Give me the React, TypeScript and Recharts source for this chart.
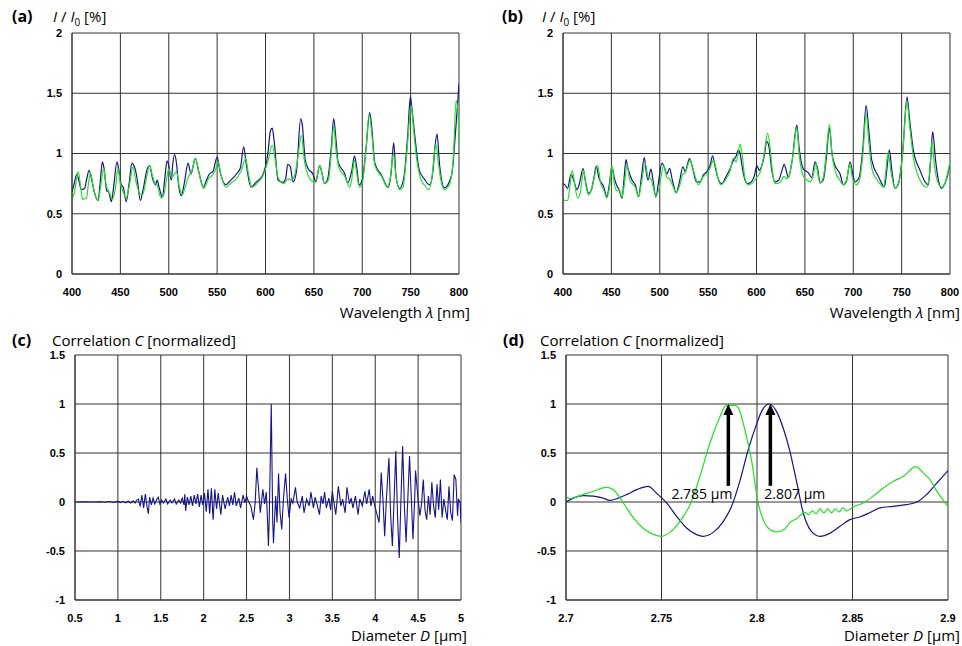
import React from "react";
import { LineChart, Line, XAxis, YAxis, CartesianGrid, ReferenceLine, ReferenceDot } from "recharts";

const BLUE = "#14148c";
const GREEN = "#22e022";
const GRID = "#333";

const wavelengthTicks = [400, 450, 500, 550, 600, 650, 700, 750, 800];
const intensityTicks = [0, 0.5, 1, 1.5, 2];
const diameterTicks = [0.5, 1, 1.5, 2, 2.5, 3, 3.5, 4, 4.5, 5];
const zoomTicks = [2.7, 2.75, 2.8, 2.85, 2.9];
const corrTicks = [-1, -0.5, 0, 0.5, 1, 1.5];

// (a) measured (blue) vs. fitted (green) spectrum, [nm, I/I0]
const aBlue: [number, number][] = [
  [400, 0.68], [402, 0.74], [405, 0.83], [407, 0.78], [409.6, 0.7], [413, 0.71], [415, 0.78], [417.6, 0.86], [420, 0.8], [423, 0.68],
  [427, 0.61], [429, 0.75], [431.4, 0.93], [433, 0.88], [436, 0.69], [438, 0.68], [440.7, 0.6], [443, 0.72], [446.5, 0.93], [448, 0.88],
  [451, 0.74], [453, 0.72], [456, 0.6], [459, 0.75], [462, 0.92], [464, 0.9], [466.5, 0.83], [468, 0.75], [470.6, 0.61], [474, 0.72],
  [477, 0.85], [480.3, 0.9], [483, 0.8], [486.5, 0.74], [488, 0.78], [490, 0.72], [493.4, 0.64], [496, 0.8], [498.2, 0.94], [500, 0.9],
  [502.7, 0.78], [504, 0.9], [506, 0.99], [508, 0.92], [510, 0.75], [513, 0.65], [516, 0.75], [520, 0.92], [523, 0.83], [527.5, 0.96],
  [531, 0.85], [536, 0.72], [539, 0.78], [542, 0.83], [545.7, 0.85], [550, 0.97], [553, 0.85], [559, 0.74], [563, 0.77], [570, 0.83],
  [574, 0.88], [577.5, 1.055], [580, 0.92], [585, 0.72], [590, 0.76], [597, 0.82], [602.6, 1.01], [605, 1.185], [607, 1.21], [609, 1.1],
  [613, 0.78], [618, 0.76], [621, 0.8], [623, 0.91], [625.7, 0.89], [628.4, 0.765], [632, 0.85], [636.4, 1.29], [638, 1.24], [641, 0.95],
  [644, 0.875], [649, 0.83], [652, 0.765], [656, 0.9], [658, 0.85], [661, 0.75], [664, 0.78], [668, 1.05], [670.5, 1.29], [673, 1.1],
  [675, 0.93], [682, 0.83], [685, 0.757], [689, 0.85], [692, 0.98], [694, 0.9], [697, 0.74], [700, 0.78], [704, 1.05], [707.7, 1.34],
  [710, 1.2], [713, 0.92], [720, 0.82], [726.6, 0.72], [730, 0.85], [732.5, 1.09], [735, 0.8], [738.7, 0.71], [743, 0.8], [747, 1.15],
  [749.7, 1.47], [751, 1.4], [754, 1.17], [759, 0.86], [764, 0.79], [769.7, 0.74], [773, 0.85], [775.5, 1.08], [777.3, 1.16], [780, 0.9],
  [785, 0.715], [790, 0.765], [793, 0.85], [795.5, 1.08], [798, 1.35], [800, 1.58],
];
const aGreen: [number, number][] = [
  [400, 0.63], [402, 0.66], [406.5, 0.85], [409, 0.72], [411, 0.62], [415, 0.63], [417, 0.75], [419, 0.84], [422, 0.72], [427, 0.61],
  [430, 0.75], [432.7, 0.875], [435, 0.75], [439, 0.67], [442, 0.62], [445, 0.72], [447.5, 0.875], [450, 0.75], [453, 0.68], [456, 0.63],
  [459, 0.72], [463, 0.89], [466, 0.77], [470, 0.67], [473, 0.66], [477, 0.8], [480, 0.9], [483, 0.82], [486, 0.75], [488, 0.74],
  [492, 0.63], [495, 0.66], [498, 0.8], [500, 0.875], [503, 0.8], [506, 0.83], [508, 0.85], [511, 0.72], [514, 0.66], [517, 0.72],
  [520, 0.8], [524, 0.86], [527.5, 0.96], [531, 0.85], [536, 0.71], [541, 0.79], [545, 0.82], [548, 0.86], [551, 0.93], [554, 0.82],
  [559, 0.72], [565, 0.76], [570, 0.79], [575, 0.86], [579.5, 0.96], [582, 0.85], [586, 0.72], [592, 0.76], [597, 0.81], [602, 0.92],
  [607, 1.07], [610, 0.95], [613, 0.8], [619, 0.75], [623, 0.79], [627, 0.78], [631, 0.85], [634, 1.0], [637, 1.15], [640, 0.95],
  [644, 0.82], [650, 0.765], [653, 0.8], [656, 0.9], [658, 0.85], [661, 0.75], [665, 0.78], [668, 1.0], [670.5, 1.23], [673, 1.02],
  [676, 0.88], [682, 0.81], [687, 0.72], [689, 0.78], [692, 0.945], [694, 0.85], [697, 0.72], [700, 0.75], [704, 1.05], [707, 1.32],
  [710, 1.15], [713, 0.9], [720, 0.81], [726, 0.72], [729, 0.8], [732, 0.995], [735, 0.8], [738.7, 0.7], [742, 0.72], [746, 1.0],
  [750.7, 1.4], [753, 1.2], [756, 0.97], [760, 0.8], [764, 0.74], [769, 0.7], [772, 0.8], [776, 1.08], [779, 0.9], [782, 0.75],
  [785, 0.7], [790, 0.74], [794, 0.95], [797, 1.44], [799, 1.35], [800, 1.08],
];

// (b) second particle
const bBlue: [number, number][] = [
  [400, 0.75], [402, 0.74], [404.8, 0.71], [408.3, 0.83], [411, 0.78], [414.5, 0.7], [417, 0.75], [420.7, 0.875], [423, 0.78], [426.5, 0.67],
  [429, 0.69], [432, 0.8], [434.4, 0.895], [437, 0.8], [442, 0.725], [445.4, 0.64], [448, 0.75], [450.6, 0.89], [453, 0.8], [455.8, 0.73],
  [458, 0.7], [461, 0.63], [463, 0.78], [465.1, 0.95], [467, 0.88], [471.3, 0.78], [474.7, 0.74], [478.1, 0.64], [481, 0.8], [484, 0.967],
  [486, 0.85], [487.8, 0.78], [490.9, 0.87], [493, 0.78], [496, 0.64], [499, 0.78], [502.2, 0.92], [505, 0.88], [507.4, 0.83], [510.2, 0.876],
  [513, 0.78], [517, 0.674], [520, 0.75], [523.9, 0.89], [526.3, 0.85], [530.8, 0.96], [534, 0.88], [537.7, 0.765], [541.8, 0.765], [545, 0.82],
  [548.7, 0.85], [552, 0.9], [554.6, 0.98], [557, 0.9], [560, 0.8], [564.2, 0.75], [568, 0.8], [572.8, 0.875], [576.2, 0.945], [579, 0.98],
  [581.4, 1.03], [583, 1.0], [586, 0.85], [590, 0.75], [594, 0.76], [598, 0.82], [600.3, 0.9], [603, 0.86], [605.5, 0.9], [608, 0.98],
  [610.7, 1.1], [613, 1.05], [616, 0.85], [619.3, 0.765], [623, 0.78], [626, 0.85], [628.6, 0.91], [631, 0.85], [633, 0.8], [637, 0.95],
  [641.7, 1.235], [644, 1.05], [648.5, 0.87], [653.7, 0.84], [657.1, 0.8], [660.6, 0.93], [663, 0.88], [665.7, 0.757], [669, 0.78], [672, 0.95],
  [675.4, 1.21], [678, 1.0], [681.2, 0.9], [686.4, 0.83], [689.8, 0.74], [693, 0.77], [696.7, 0.93], [699, 0.85], [701.9, 0.765], [706, 0.8],
  [710, 1.05], [713.3, 1.4], [716, 1.2], [719.1, 0.945], [726, 0.81], [732.2, 0.724], [734.5, 0.85], [737.3, 1.03], [740, 0.85], [743.2, 0.71],
  [747, 0.76], [751, 1.0], [755.6, 1.47], [758, 1.3], [762.1, 1.03], [769, 0.86], [774.2, 0.765], [777.6, 0.74], [780, 0.95], [782.1, 1.18],
  [785, 0.95], [788, 0.78], [791.4, 0.71], [794, 0.74], [797, 0.8], [800, 0.917],
];
const bGreen: [number, number][] = [
  [400, 0.62], [402, 0.61], [404.8, 0.61], [407, 0.72], [409.6, 0.86], [412, 0.75], [415.1, 0.63], [418, 0.68], [421.3, 0.86], [424, 0.72],
  [426.5, 0.655], [430, 0.72], [435.8, 0.9], [439, 0.75], [442, 0.7], [445.4, 0.63], [448, 0.72], [450.6, 0.9], [453, 0.75], [456, 0.69],
  [458, 0.7], [460.9, 0.64], [463, 0.72], [466.1, 0.9], [469, 0.78], [474.7, 0.72], [478.1, 0.64], [481, 0.75], [485, 0.917], [488, 0.8],
  [491, 0.79], [493, 0.73], [496, 0.65], [499, 0.7], [504, 0.9], [507.4, 0.8], [510, 0.79], [513, 0.74], [517, 0.674], [520, 0.72],
  [524, 0.83], [526.3, 0.84], [531.4, 0.945], [534, 0.88], [537, 0.8], [540.1, 0.74], [544, 0.8], [548.7, 0.83], [552, 0.88], [555.6, 0.945],
  [558, 0.88], [560, 0.8], [563.2, 0.74], [568, 0.78], [572.8, 0.86], [576, 0.96], [579, 0.93], [583.1, 1.077], [585, 1.0], [588, 0.8],
  [591.7, 0.74], [595, 0.75], [600, 0.8], [604, 0.85], [608, 1.0], [611.4, 1.17], [614, 1.05], [617, 0.82], [619.3, 0.75], [624, 0.76],
  [628.6, 0.81], [631, 0.79], [633, 0.8], [637, 0.95], [641.7, 1.21], [644, 1.0], [648, 0.82], [652, 0.78], [655.4, 0.765], [658, 0.8],
  [661.6, 0.917], [663, 0.85], [665.7, 0.757], [669, 0.8], [672, 1.0], [675.4, 1.24], [678, 1.0], [683, 0.82], [686, 0.78], [689.8, 0.74],
  [693, 0.78], [696.7, 0.917], [699, 0.8], [703.6, 0.74], [707, 0.8], [710, 1.0], [713.3, 1.33], [716, 1.1], [719.1, 0.88], [723, 0.8],
  [727.7, 0.75], [731.2, 0.72], [733, 0.8], [736, 1.01], [739, 0.85], [743.2, 0.71], [747, 0.75], [751, 1.0], [755.6, 1.43], [758, 1.25],
  [762.1, 0.97], [769, 0.78], [775.9, 0.72], [779, 0.85], [781.4, 1.1], [784, 0.9], [788, 0.75], [791.4, 0.72], [795, 0.76], [800, 0.93],
];

// (c) correlation over full diameter range, [um, C]
const cTrace: [number, number][] = [
  [0.5, 0], [0.6, 0.002], [0.7, 0], [0.8, 0.003], [0.85, -0.003], [0.9, 0.005], [0.95, -0.004], [1.0, 0.006], [1.03, -0.006], [1.06, 0.007],
  [1.09, -0.008], [1.12, 0.008], [1.15, -0.01], [1.18, 0.012], [1.2, -0.01], [1.22, 0.02], [1.24, 0.03], [1.25, -0.02], [1.26, -0.04], [1.28, 0.07],
  [1.3, -0.06], [1.32, 0.08], [1.34, -0.05], [1.355, -0.12], [1.37, 0.05], [1.39, -0.03], [1.41, 0.04], [1.43, -0.02], [1.45, 0.02], [1.47, 0.05],
  [1.49, -0.02], [1.51, 0.02], [1.53, -0.01], [1.56, 0.03], [1.58, -0.02], [1.61, 0.02], [1.63, -0.01], [1.66, 0.03], [1.68, -0.02], [1.71, 0.02],
  [1.73, -0.01], [1.75, 0.04], [1.77, -0.03], [1.78, 0.08], [1.79, -0.09], [1.81, 0.05], [1.83, -0.03], [1.85, 0.06], [1.87, -0.04], [1.89, 0.07],
  [1.91, -0.02], [1.93, 0.08], [1.95, -0.05], [1.97, 0.07], [1.99, -0.03], [2.01, 0.09], [2.03, -0.1], [2.05, 0.13], [2.07, -0.12], [2.09, 0.14],
  [2.11, -0.18], [2.13, 0.13], [2.15, -0.07], [2.17, 0.09], [2.2, -0.13], [2.22, 0.07], [2.25, -0.07], [2.28, 0.05], [2.3, -0.04], [2.32, 0.07],
  [2.34, -0.03], [2.36, 0.1], [2.38, -0.04], [2.41, 0.04], [2.43, -0.06], [2.46, 0.07], [2.48, -0.01], [2.5, 0.06], [2.52, 0.01], [2.55, -0.04],
  [2.58, -0.18], [2.6, -0.01], [2.62, 0.35], [2.64, 0.13], [2.66, -0.11], [2.69, 0.13], [2.71, -0.02], [2.73, 0.1], [2.745, -0.2], [2.755, -0.45],
  [2.765, -0.15], [2.775, 0.35], [2.788, 1.0], [2.798, 0.3], [2.805, -0.2], [2.814, -0.42], [2.825, -0.2], [2.84, 0.06], [2.855, -0.21], [2.873, 0.29],
  [2.89, -0.1], [2.91, -0.28], [2.93, 0.03], [2.955, 0.29], [2.975, 0.03], [2.995, -0.16], [3.02, 0.03], [3.04, -0.01], [3.07, 0.15], [3.09, 0.0],
  [3.12, -0.06], [3.15, 0.06], [3.17, -0.11], [3.2, 0.03], [3.23, -0.04], [3.25, 0.1], [3.28, -0.06], [3.3, 0.05], [3.32, -0.02], [3.35, -0.13],
  [3.37, 0.06], [3.39, -0.02], [3.41, 0.1], [3.43, -0.06], [3.46, 0.04], [3.48, -0.08], [3.5, 0.11], [3.52, -0.01], [3.54, -0.13], [3.57, 0.16],
  [3.6, -0.04], [3.62, 0.03], [3.65, -0.11], [3.67, 0.15], [3.7, -0.02], [3.72, 0.04], [3.74, -0.06], [3.77, 0.06], [3.8, -0.13], [3.82, 0.03],
  [3.85, -0.04], [3.88, 0.11], [3.9, -0.02], [3.93, 0.13], [3.95, -0.04], [3.97, 0.06], [3.99, -0.02], [4.03, -0.16], [4.045, -0.21], [4.07, 0.3],
  [4.09, 0.03], [4.11, -0.35], [4.13, 0.03], [4.16, 0.45], [4.18, -0.14], [4.2, -0.45], [4.22, 0.03], [4.24, 0.52], [4.26, -0.14], [4.28, -0.57],
  [4.3, 0.03], [4.32, 0.57], [4.34, -0.04], [4.36, -0.41], [4.38, 0.03], [4.4, 0.47], [4.42, 0.06], [4.44, -0.38], [4.46, 0.03], [4.47, 0.32],
  [4.5, 0.03], [4.52, -0.14], [4.54, -0.02], [4.56, 0.23], [4.58, -0.08], [4.6, -0.18], [4.62, 0.06], [4.64, -0.13], [4.66, 0.2], [4.68, -0.04],
  [4.7, -0.16], [4.72, 0.18], [4.74, -0.08], [4.76, 0.23], [4.78, -0.16], [4.8, 0.03], [4.82, -0.08], [4.84, -0.18], [4.86, 0.16], [4.88, -0.11],
  [4.9, -0.19], [4.92, 0.28], [4.94, 0.23], [4.96, -0.14], [4.97, 0.03], [4.99, -0.01], [5.0, -0.21],
];

// (d) zoom on the correlation peaks
const dGreen: [number, number][] = [
  [2.7, 0.05], [2.7021, 0.035], [2.7073, 0.065], [2.7143, 0.11], [2.7213, 0.15], [2.7256, 0.11], [2.73, -0.01], [2.7352, -0.16], [2.7405, -0.27],
  [2.7457, -0.33], [2.75, -0.35], [2.7544, -0.31], [2.7596, -0.2], [2.7649, -0.03], [2.7701, 0.26], [2.7753, 0.6], [2.7806, 0.87], [2.7832, 0.975],
  [2.7849, 0.985], [2.7884, 0.985], [2.7902, 0.96], [2.7936, 0.74], [2.7971, 0.43], [2.8006, -0.01], [2.8032, -0.18], [2.8058, -0.265], [2.8102, -0.305],
  [2.8146, -0.275], [2.8172, -0.21], [2.8207, -0.17], [2.825, -0.105], [2.827, -0.13], [2.829, -0.09], [2.831, -0.12], [2.833, -0.07], [2.835, -0.11],
  [2.837, -0.07], [2.839, -0.11], [2.841, -0.07], [2.843, -0.1], [2.845, -0.06], [2.847, -0.09], [2.8503, -0.05], [2.8556, -0.01], [2.8608, 0.06],
  [2.866, 0.14], [2.8712, 0.21], [2.8765, 0.26], [2.8831, 0.36], [2.8869, 0.3], [2.8904, 0.23], [2.8948, 0.09], [2.9, -0.045],
];
const dBlue: [number, number][] = [
  [2.7, 0.0], [2.7038, 0.04], [2.709, 0.065], [2.7143, 0.06], [2.7195, 0.04], [2.723, 0.017], [2.7274, 0.04], [2.7317, 0.075], [2.737, 0.126],
  [2.743, 0.16], [2.7474, 0.09], [2.7527, -0.01], [2.7579, -0.146], [2.7631, -0.265], [2.7684, -0.333], [2.7718, -0.35], [2.7771, -0.31], [2.7823, -0.2],
  [2.7867, -0.044], [2.791, 0.21], [2.7954, 0.534], [2.7997, 0.79], [2.8024, 0.925], [2.8064, 1.0], [2.8102, 0.925], [2.8137, 0.755], [2.8172, 0.52],
  [2.8207, 0.21], [2.8242, -0.11], [2.8285, -0.3], [2.8329, -0.35], [2.8381, -0.32], [2.8433, -0.25], [2.8486, -0.18], [2.8538, -0.153], [2.859, -0.11],
  [2.8643, -0.06], [2.8712, -0.044], [2.8782, -0.027], [2.8835, -0.003], [2.8887, 0.075], [2.894, 0.19], [2.9, 0.32],
];

const peakDiameters = [2.785, 2.807];
const peakLabels = ["2.785 µm", "2.807 µm"];

const pts = (arr: [number, number][]) => arr.map(([x, y]) => ({ x, y }));

const tickStyle = { fontSize: 11, fontWeight: 700, fill: "#000", fontFamily: "'Liberation Sans', Arial, sans-serif" };
const textFont = "'Open Sans', 'DejaVu Sans', sans-serif";

interface PanelProps {
  left: number;
  top: number;
  width: number;
  height: number;
  yWidth: number;
  marginTop: number;
  marginRight: number;
  xDomain: [number, number];
  xTicks: number[];
  yDomain: [number, number];
  yTicks: number[];
  children: React.ReactNode;
}

function Panel(p: PanelProps) {
  return (
    <div style={{ position: "absolute", left: p.left, top: p.top }}>
      <LineChart width={p.width} height={p.height} margin={{ top: p.marginTop, right: p.marginRight, bottom: 0, left: 0 }}>
        <CartesianGrid stroke={GRID} strokeWidth={1} horizontalValues={p.yTicks} verticalValues={p.xTicks} />
        <XAxis
          dataKey="x"
          type="number"
          domain={p.xDomain}
          ticks={p.xTicks}
          allowDataOverflow
          height={p.height - p.marginTop - (p.height - p.marginTop - 46) - 0}
          tickLine={false}
          tickMargin={8}
          axisLine={{ stroke: GRID }}
          tick={tickStyle}
          interval={0}
        />
        <YAxis
          type="number"
          domain={p.yDomain}
          ticks={p.yTicks}
          allowDataOverflow
          width={p.yWidth}
          tickLine={false}
          tickMargin={4}
          axisLine={{ stroke: GRID }}
          tick={tickStyle}
          interval={0}
        />
        {p.children}
      </LineChart>
    </div>
  );
}

function Txt({ x, y, right, children, bold, size }: { x?: number; y: number; right?: number; children: React.ReactNode; bold?: boolean; size?: number }) {
  return (
    <div
      style={{
        position: "absolute",
        left: x,
        right: right !== undefined ? 962 - right : undefined,
        top: y - 11,
        height: 22,
        lineHeight: "22px",
        fontFamily: textFont,
        fontSize: size || 15,
        fontWeight: bold ? 700 : 400,
        color: "#000",
        whiteSpace: "nowrap",
      }}
    >
      {children}
    </div>
  );
}

const ArrowHead = (props: any) => (
  <path d={`M${props.cx},${props.cy} L${props.cx - 5},${props.cy + 11} L${props.cx + 5},${props.cy + 11} Z`} fill="#000" />
);

const peakText = (label: string, i: number) => (props: any) => (
  <text
    x={i === 0 ? props.cx + 4 : props.cx - 6}
    y={props.cy + 8}
    textAnchor={i === 0 ? "end" : "start"}
    dominantBaseline="central"
    fontFamily={textFont}
    fontSize={14}
    fill="#000"
  >
    {label}
  </text>
);

const intensityTitle = (
  <span>
    <i>I</i> / <i>I</i>
    <sub style={{ fontSize: 10 }}>0</sub> [%]
  </span>
);

export default function App() {
  return (
    <div style={{ position: "absolute", left: 0, top: 0, width: 962, height: 646, background: "#fff", overflow: "hidden" }}>
      <Panel left={0} top={0} width={480} height={320} yWidth={72} marginTop={33} marginRight={21}
        xDomain={[400, 800]} xTicks={wavelengthTicks} yDomain={[0, 2]} yTicks={intensityTicks}>
        <Line data={pts(aBlue)} dataKey="y" type="monotone" stroke={BLUE} strokeWidth={1.2} dot={false} isAnimationActive={false} />
        <Line data={pts(aGreen)} dataKey="y" type="monotone" stroke={GREEN} strokeWidth={1.2} dot={false} isAnimationActive={false} />
      </Panel>
      <Panel left={480} top={0} width={482} height={320} yWidth={83} marginTop={33} marginRight={12}
        xDomain={[400, 800]} xTicks={wavelengthTicks} yDomain={[0, 2]} yTicks={intensityTicks}>
        <Line data={pts(bBlue)} dataKey="y" type="monotone" stroke={BLUE} strokeWidth={1.2} dot={false} isAnimationActive={false} />
        <Line data={pts(bGreen)} dataKey="y" type="monotone" stroke={GREEN} strokeWidth={1.2} dot={false} isAnimationActive={false} />
      </Panel>
      <Panel left={0} top={320} width={480} height={326} yWidth={75} marginTop={35} marginRight={19}
        xDomain={[0.5, 5]} xTicks={diameterTicks} yDomain={[-1, 1.5]} yTicks={corrTicks}>
        <Line data={pts(cTrace)} dataKey="y" type="linear" stroke={BLUE} strokeWidth={1.1} dot={false} isAnimationActive={false} />
      </Panel>
      <Panel left={480} top={320} width={482} height={326} yWidth={86} marginTop={35} marginRight={14}
        xDomain={[2.7, 2.9]} xTicks={zoomTicks} yDomain={[-1, 1.5]} yTicks={corrTicks}>
        <Line data={pts(dBlue)} dataKey="y" type="monotone" stroke={BLUE} strokeWidth={1.2} dot={false} isAnimationActive={false} />
        <Line data={pts(dGreen)} dataKey="y" type="monotone" stroke={GREEN} strokeWidth={1.2} dot={false} isAnimationActive={false} />
        {peakDiameters.map((d) => (
          <ReferenceLine key={`s${d}`} segment={[{ x: d, y: 0.165 }, { x: d, y: 0.92 }]} stroke="#000" strokeWidth={3.5} />
        ))}
        {peakDiameters.map((d) => (
          <ReferenceDot key={`h${d}`} x={d} y={1} r={0} shape={ArrowHead} />
        ))}
        {peakDiameters.map((d, i) => (
          <ReferenceDot key={`t${d}`} x={d} y={0.165} r={0} shape={peakText(peakLabels[i], i)} />
        ))}
      </Panel>

      <Txt x={12} y={16} bold size={16}>(a)</Txt>
      <Txt x={53} y={16}>{intensityTitle}</Txt>
      <Txt right={470} y={312}>Wavelength <i>λ</i> [nm]</Txt>

      <Txt x={502} y={16} bold size={16}>(b)</Txt>
      <Txt x={542} y={16}>{intensityTitle}</Txt>
      <Txt right={960} y={312}>Wavelength <i>λ</i> [nm]</Txt>

      <Txt x={12} y={340} bold size={16}>(c)</Txt>
      <Txt x={52} y={340}>Correlation <i>C</i> [normalized]</Txt>
      <Txt right={467} y={635}>Diameter <i>D</i> [µm]</Txt>

      <Txt x={503} y={340} bold size={16}>(d)</Txt>
      <Txt x={540} y={340}>Correlation <i>C</i> [normalized]</Txt>
      <Txt right={960} y={635}>Diameter <i>D</i> [µm]</Txt>
    </div>
  );
}
